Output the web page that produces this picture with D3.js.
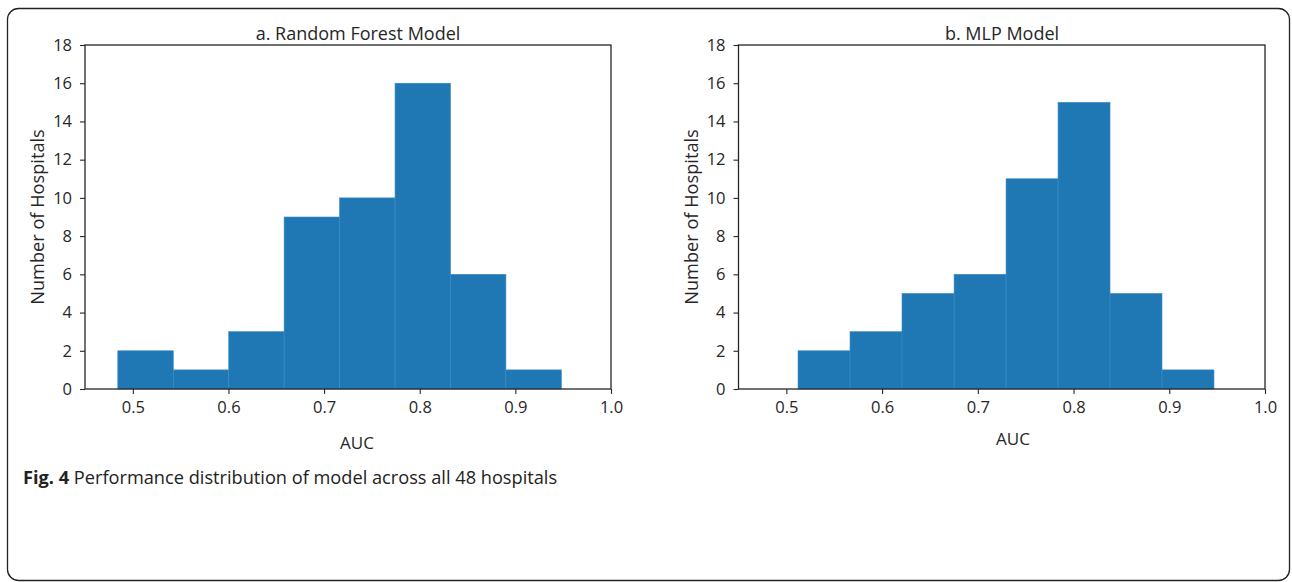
<!DOCTYPE html>
<html><head><meta charset="utf-8">
<script src="https://cdn.jsdelivr.net/npm/d3@7"></script>
<style>body{margin:0;background:#fff;} svg{display:block;}</style>
</head><body>
<svg id="c" width="1292" height="582"></svg>
<script>
// Data
const panelTitles = ["a. Random Forest Model", "b. MLP Model"];
const rfEdges = [0.4843, 0.5423, 0.6003, 0.6582, 0.7162, 0.7742, 0.8322, 0.8901, 0.9481];
const rfCounts = [2, 1, 3, 9, 10, 16, 6, 1];
const mlpEdges = [0.5122, 0.5665, 0.6208, 0.6752, 0.7295, 0.7838, 0.8381, 0.8924, 0.9467];
const mlpCounts = [2, 3, 5, 6, 11, 15, 5, 1];
const xTicks = [0.5, 0.6, 0.7, 0.8, 0.9, 1.0];
const yTicks = [0, 2, 4, 6, 8, 10, 12, 14, 16, 18];
const xLabel = "AUC";
const yLabel = "Number of Hospitals";
const captionBold = "Fig. 4";
const captionText = " Performance distribution of model across all 48 hospitals";

const svg = d3.select("#c");
const font = "'Open Sans', 'DejaVu Sans', sans-serif";
const ink = "#262626";

svg.append("rect").attr("x", 7.5).attr("y", 8.5).attr("width", 1282).attr("height", 572)
  .attr("rx", 11).attr("fill", "#fff").attr("stroke", "#222").attr("stroke-width", 1.3);

const panels = [
  {title: panelTitles[0], edges: rfEdges, counts: rfCounts, x0: 85, x1: 611, tx: 358, ylx: 44, xlx: 357, xlabY: 449},
  {title: panelTitles[1], edges: mlpEdges, counts: mlpCounts, x0: 738.5, x1: 1265, tx: 1002, ylx: 698, xlx: 1013, xlabY: 445}
];

panels.forEach(p => {
  const x = d3.scaleLinear().domain([0.45, 1.0]).range([p.x0, p.x1]);
  const y = d3.scaleLinear().domain([0, 18]).range([389, 45]);
  const g = svg.append("g");
  const bins = p.counts.map((c, i) => ({a: p.edges[i], b: p.edges[i + 1], c}));
  g.selectAll("rect.bar").data(bins).enter().append("rect")
    .attr("class", "bar")
    .attr("x", d => x(d.a)).attr("width", d => x(d.b) - x(d.a))
    .attr("y", d => y(d.c)).attr("height", d => y(0) - y(d.c))
    .attr("fill", "#1f77b4").attr("stroke", "#3a8cc6").attr("stroke-width", 0.6);

  const xa = g.append("g").attr("transform", `translate(0,${y(0)})`)
    .call(d3.axisBottom(x).tickValues(xTicks).tickFormat(d3.format(".1f")).tickSize(5).tickPadding(7).tickSizeOuter(0));
  const ya = g.append("g").attr("transform", `translate(${p.x0},0)`)
    .call(d3.axisLeft(y).tickValues(yTicks).tickSize(5).tickPadding(8).tickSizeOuter(0));
  [xa, ya].forEach(a => {
    a.select(".domain").remove();
    a.selectAll("line").attr("stroke", ink).attr("stroke-width", 1.1);
    a.selectAll("text").attr("font-family", font).attr("font-size", 16.5).attr("fill", ink);
  });
  g.append("rect").attr("x", p.x0).attr("y", y(18)).attr("width", p.x1 - p.x0).attr("height", y(0) - y(18))
    .attr("fill", "none").attr("stroke", ink).attr("stroke-width", 1.3);

  g.append("text").attr("x", p.tx).attr("y", 39.5).attr("text-anchor", "middle")
    .attr("font-family", font).attr("font-size", 18).attr("fill", ink).text(p.title);
  g.append("text").attr("x", p.xlx).attr("y", p.xlabY).attr("text-anchor", "middle")
    .attr("font-family", font).attr("font-size", 17).attr("fill", ink).text(xLabel);
  g.append("text").attr("transform", `translate(${p.ylx},${(y(0) + y(18)) / 2}) rotate(-90)`)
    .attr("text-anchor", "middle").attr("font-family", font).attr("font-size", 18.2).attr("fill", ink).text(yLabel);
});

const cap = svg.append("text").attr("x", 23).attr("y", 484).attr("font-family", font).attr("font-size", 18.2).attr("fill", "#222");
cap.append("tspan").attr("font-weight", "bold").text(captionBold);
cap.append("tspan").text(captionText);
</script>
</body></html>
